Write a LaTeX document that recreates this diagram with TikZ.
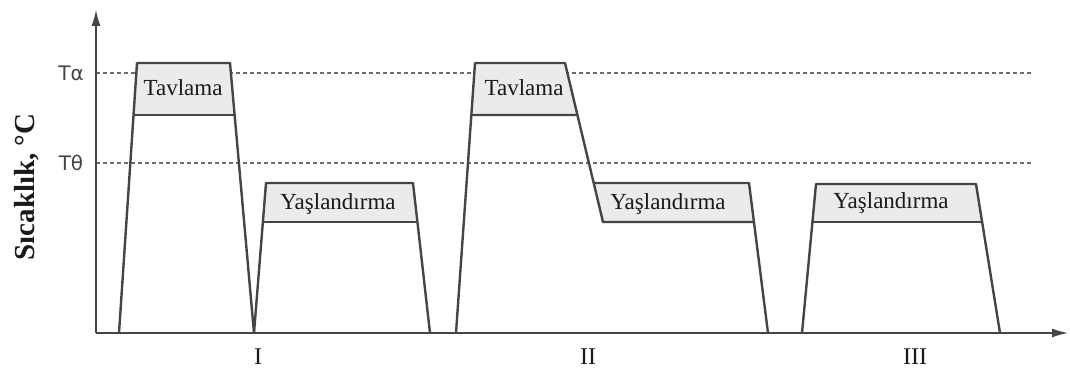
\documentclass[tikz,border=0pt]{standalone}
\usepackage{fontspec}
\setmainfont{Liberation Serif}
\newfontfamily\labelfont{DejaVu Sans}
\usetikzlibrary{arrows.meta,calc}

\definecolor{linegray}{HTML}{454545}
\definecolor{dashgray}{HTML}{6A6A6A}
\definecolor{soakfill}{HTML}{EBEBEB}
\definecolor{inkgray}{HTML}{1A1A1A}

\tikzset{
  axisline/.style={draw=linegray, line width=2.4pt, -{Latex[length=17pt,width=9pt]}},
  levelline/.style={draw=dashgray, line width=2.2pt, dash pattern=on 4pt off 3pt},
  cycleline/.style={draw=linegray, line width=2.4pt, line join=round},
  soakband/.style={fill=soakfill, draw=none},
  steplabel/.style={text=inkgray, font=\fontsize{23}{25}\selectfont, inner sep=0pt},
  templabel/.style={text=linegray, font=\labelfont\fontsize{20}{22}\selectfont, inner sep=0pt},
  cyclelabel/.style={text=inkgray, font=\fontsize{24}{26}\selectfont, inner sep=0pt},
}

\begin{document}
\begin{tikzpicture}[x=1pt,y=-1pt]
\useasboundingbox (0,0) rectangle (1070,374);

% axes
\coordinate (O) at (96,333);
\coordinate (ytip) at (96,9);
\coordinate (xtip) at (1069,333);

% temperature levels
\coordinate (ta0) at (96,73);  \coordinate (ta1) at (1031,73);
\coordinate (te0) at (96,163); \coordinate (te1) at (1031,163);
\draw[levelline] (ta0) -- (ta1);
\draw[levelline] (te0) -- (te1);

% cycle I: annealing
\coordinate (a1) at (119,333); \coordinate (a2) at (137,63);
\coordinate (a3) at (230,63);  \coordinate (a4) at (254,333);
\coordinate (a5) at ($(a1)!{218/270}!(a2)$);
\coordinate (a6) at ($(a4)!{218/270}!(a3)$);
% cycle I: ageing
\coordinate (b1) at (254,333); \coordinate (b2) at (266,183);
\coordinate (b3) at (413,183); \coordinate (b4) at (430,333);
\coordinate (b5) at ($(b1)!{111/150}!(b2)$);
\coordinate (b6) at ($(b4)!{111/150}!(b3)$);

% cycle II: annealing, cooling straight to ageing
\coordinate (c1) at (456,333); \coordinate (c2) at (475,63);
\coordinate (c3) at (565,63);  \coordinate (c4) at (603,222);
\coordinate (c5) at ($(c1)!{218/270}!(c2)$);
\coordinate (c6) at ($(c3)!{52/159}!(c4)$);
\coordinate (d1) at ($(c3)!{120/159}!(c4)$);
\coordinate (d2) at (749,183); \coordinate (d3) at (768,333);
\coordinate (d4) at ($(d3)!{111/150}!(d2)$);

% cycle III: ageing
\coordinate (e1) at (802,333); \coordinate (e2) at (816,184);
\coordinate (e3) at (976,184); \coordinate (e4) at (1000,333);
\coordinate (e5) at ($(e1)!{111/149}!(e2)$);
\coordinate (e6) at ($(e4)!{111/149}!(e3)$);

% shaded soak bands
\fill[soakband] (a5) -- (a2) -- (a3) -- (a6) -- cycle;
\fill[soakband] (b5) -- (b2) -- (b3) -- (b6) -- cycle;
\fill[soakband] (c5) -- (c2) -- (c3) -- (c6) -- cycle;
\fill[soakband] (c4) -- (d1) -- (d2) -- (d4) -- cycle;
\fill[soakband] (e5) -- (e2) -- (e3) -- (e6) -- cycle;

% outlines
\draw[cycleline] (a1) -- (a2) -- (a3) -- (a4);
\draw[cycleline] (a5) -- (a6);
\draw[cycleline] (b1) -- (b2) -- (b3) -- (b4);
\draw[cycleline] (b5) -- (b6);
\draw[cycleline] (c1) -- (c2) -- (c3) -- (c4) -- (d4) -- (d3);
\draw[cycleline] (c5) -- (c6);
\draw[cycleline] (d1) -- (d2) -- (d4);
\draw[cycleline] (e1) -- (e2) -- (e3) -- (e4);
\draw[cycleline] (e5) -- (e6);

\draw[axisline] (O) -- (ytip);
\draw[axisline] (O) -- (xtip);

% step names
\node[steplabel] (t1) at (183,88) {Tavlama};
\node[steplabel] (t2) at (524,88) {Tavlama};
\node[steplabel] (y1) at (338,204) {Yaşlandırma};
\node[steplabel] (y2) at (668,204) {Yaşlandırma};
\node[steplabel] (y3) at (891,203) {Yaşlandırma};

% temperature labels
\node[templabel] (lta) at (71,73) {Tα};
\node[templabel] (lte) at (71,163) {Tθ};

% cycle numbers
\node[cyclelabel] (n1) at (258,357) {I};
\node[cyclelabel] (n2) at (588,357) {II};
\node[cyclelabel] (n3) at (915,357) {III};

% axis title
\node[text=inkgray, font=\bfseries\fontsize{29}{31}\selectfont, rotate=90, inner sep=0pt] (ylab) at (27,187) {Sıcaklık, °C};
\end{tikzpicture}
\end{document}
